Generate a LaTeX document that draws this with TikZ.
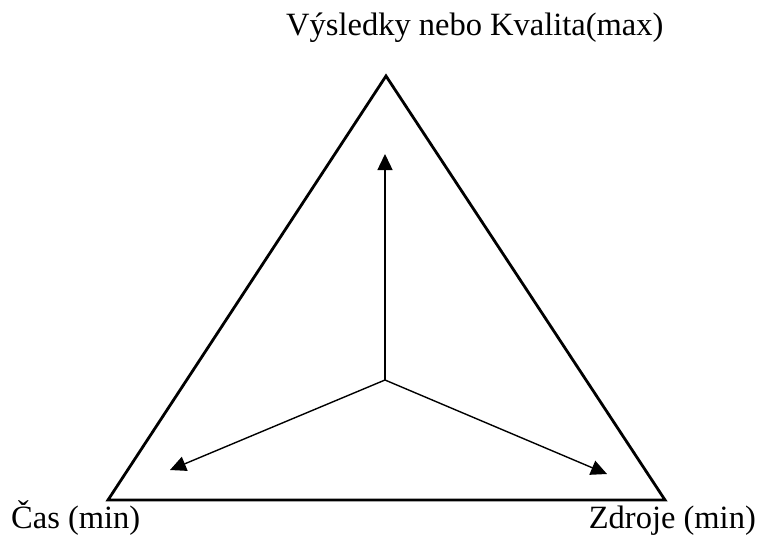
\documentclass[tikz,border=0pt]{standalone}
\usepackage{fontspec}
\setmainfont{Liberation Serif}
\usetikzlibrary{arrows.meta}
\begin{document}
\begin{tikzpicture}[x=1pt,y=1pt,
  tri/.style={line width=2.8pt, line join=miter},
  axis/.style={line width=1.4pt, -{Triangle[length=16pt,width=15pt]}},
  lbl/.style={font=\fontsize{32.5}{38}\selectfont, inner sep=0pt}]
\useasboundingbox (0,0) rectangle (760,542);
\coordinate (A) at (386,466);
\coordinate (L) at (108,42);
\coordinate (R) at (665,42);
\coordinate (C) at (385,162);
\coordinate (tU) at (385,388);
\coordinate (tL) at (170,72);
\coordinate (tR) at (607,68);
\draw[tri] (A) -- (L) -- (R) -- cycle;
\draw[axis] (C) -- (tU);
\draw[axis] (C) -- (tL);
\draw[axis] (C) -- (tR);
\node[lbl, anchor=base west] (top) at (286,506) {Výsledky nebo Kvalita(max)};
\node[lbl, anchor=base west] (cas) at (11,14) {Čas (min)};
\node[lbl, anchor=base east] (zdr) at (756,14) {Zdroje (min)};
\end{tikzpicture}
\end{document}
